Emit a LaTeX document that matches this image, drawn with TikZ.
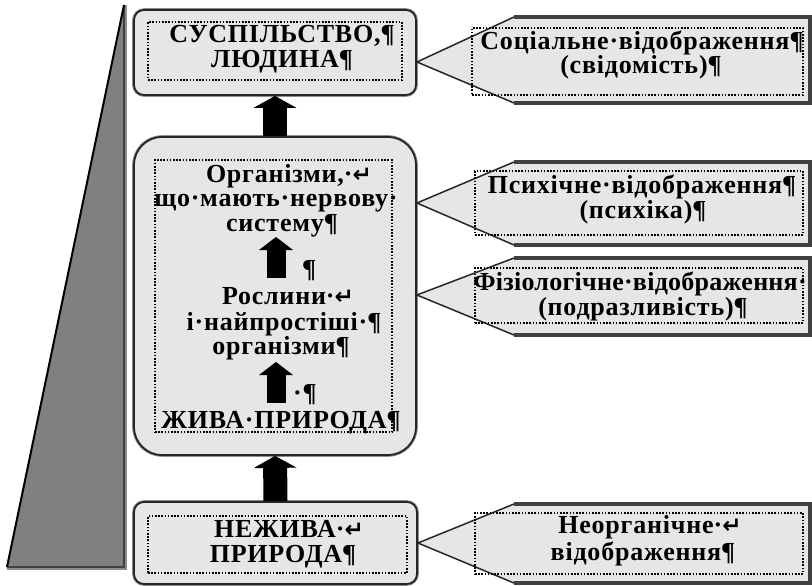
\documentclass[tikz,border=0pt]{standalone}
\usepackage{fontspec}
\setmainfont[LetterSpace=3]{Liberation Serif}
\newfontfamily\djv{DejaVu Sans}
\usetikzlibrary{arrows.meta}
\definecolor{boxfill}{HTML}{E6E6E6}
\definecolor{trigray}{HTML}{808080}
\newcommand\pilc{\rlap{¶}}
\newcommand\retc{\rlap{·{\djv\bfseries\fontsize{23}{23}\selectfont ↵}}}
\tikzset{
 box/.style={preaction={draw=black!45, line width=3.6pt}, draw=black!85, line width=1.8pt, fill=boxfill, rounded corners=10pt, inner sep=0pt},
 framebox/.style={draw=black, line width=1.6pt, dash pattern=on 1.6pt off 1.6pt, inner sep=0pt},
 txt/.style={font=\fontsize{26}{25}\selectfont\bfseries, inner sep=0pt, anchor=base},
 bigarrow/.style={line width=24pt, -{Triangle[width=43pt,length=12pt,line width=0pt]}},
 smallarrow/.style={line width=19pt, -{Triangle[width=34pt,length=13pt,line width=0pt]}},
 calledge/.style={draw=black!85, line width=1.5pt},
 callthick/.style={draw=black!75, line width=3.6pt},
}
\begin{document}
\begin{tikzpicture}[x=1pt,y=-1pt]
\useasboundingbox (0,0) rectangle (812,586);
% side wedge
\fill[trigray] (124,5) -- (7,567) -- (124,567) -- cycle;
\draw[black!45, line width=1.5pt] (126,5) -- (126,569) -- (7,569);
\draw[black!75, line width=2.5pt] (124,5) -- (124,567) -- (7,567);
\draw[black, line width=2pt] (124,5) -- (7,567);
% boxes
\node[box, minimum width=282pt, minimum height=85pt] (soc) at (275,52.5) {};
\node[box, rounded corners=28pt, minimum width=282pt, minimum height=318pt] (liv) at (275,296) {};
\node[box, minimum width=283pt, minimum height=82pt] (nliv) at (275.5,543) {};
\node[framebox, minimum width=254pt, minimum height=58pt] (socf) at (275,51) {};
\node[framebox, minimum width=237pt, minimum height=272pt] (livf) at (273.5,296) {};
\node[framebox, minimum width=259pt, minimum height=57pt] (nlivf) at (277.5,544.5) {};
% big arrows
\draw[bigarrow] (liv.north) -- (soc.south);
\draw[bigarrow] (nliv.north) -- (liv.south);
% small arrows
\coordinate (a1s) at (276,278);
\coordinate (a1e) at (276,237);
\coordinate (a2s) at (276,403);
\coordinate (a2e) at (276,362);
\draw[smallarrow] (a1s) -- (a1e);
\draw[smallarrow] (a2s) -- (a2e);
% texts in boxes
\node[txt] (s1) at (275,43) {СУСПІЛЬСТВО,\pilc};
\node[txt] (s2) at (275,68) {ЛЮДИНА\pilc};
\node[txt] (o1) at (275,182) {Організми,\retc};
\node[txt] (o2) at (276,206) {що·мають·нервову·};
\node[txt] (o3) at (275,231) {систему\pilc};
\node[txt, anchor=base west] (p0) at (302,277) {¶};
\node[txt] (r1) at (274,304) {Рослини\retc};
\node[txt] (r2) at (277,330) {і·найпростіші·\pilc};
\node[txt] (r3) at (274,354) {організми\pilc};
\node[txt, anchor=base west] (p1) at (293,401) {·¶};
\node[txt] (z1) at (274,428) {ЖИВА·ПРИРОДА\pilc};
\node[txt] (n1) at (275,537) {НЕЖИВА\retc};
\node[txt] (n2) at (276,562) {ПРИРОДА\pilc};
% callouts
\coordinate (c1t) at (soc.east |- 0,62);
\coordinate (c2t) at (liv.east |- 0,203);
\coordinate (c3t) at (liv.east |- 0,295);
\coordinate (c4t) at (nliv.east |- 0,543);
\foreach \t/\top/\bot in {c1t/17/103, c2t/162/245, c3t/258/335, c4t/504/583}{
  \fill[boxfill] (\t) -- (514,\top) -- (810,\top) -- (810,\bot) -- (514,\bot) -- cycle;
  \draw[calledge] (514,\top) -- (\t) -- (514,\bot);
  \draw[callthick] (514,\top) -- (810,\top) -- (810,\bot) -- (514,\bot);
}
\node[framebox, minimum width=331pt, minimum height=67pt] (c1f) at (637.5,61.5) {};
\node[framebox, minimum width=328pt, minimum height=64pt] (c2f) at (639,203) {};
\node[framebox, minimum width=328pt, minimum height=55pt] (c3f) at (639,295.5) {};
\node[framebox, minimum width=328pt, minimum height=61pt] (c4f) at (639,543.5) {};
\node[txt] (k1) at (635,50) {Соціальне·відображення\pilc};
\node[txt] (k2) at (634,74) {(свідомість)\pilc};
\node[txt] (k3) at (635,193) {Психічне·відображення\pilc};
\node[txt] (k4) at (636,218) {(психіка)\pilc};
\node[txt] (k5) at (640,290) {\addfontfeature{LetterSpace=1}Фізіологічне·відображення·};
\node[txt] (k6) at (636,315) {(подразливість)\pilc};
\node[txt] (k7) at (636,533) {Неорганічне\retc};
\node[txt] (k8) at (636,560) {відображення\pilc};
\end{tikzpicture}
\end{document}
